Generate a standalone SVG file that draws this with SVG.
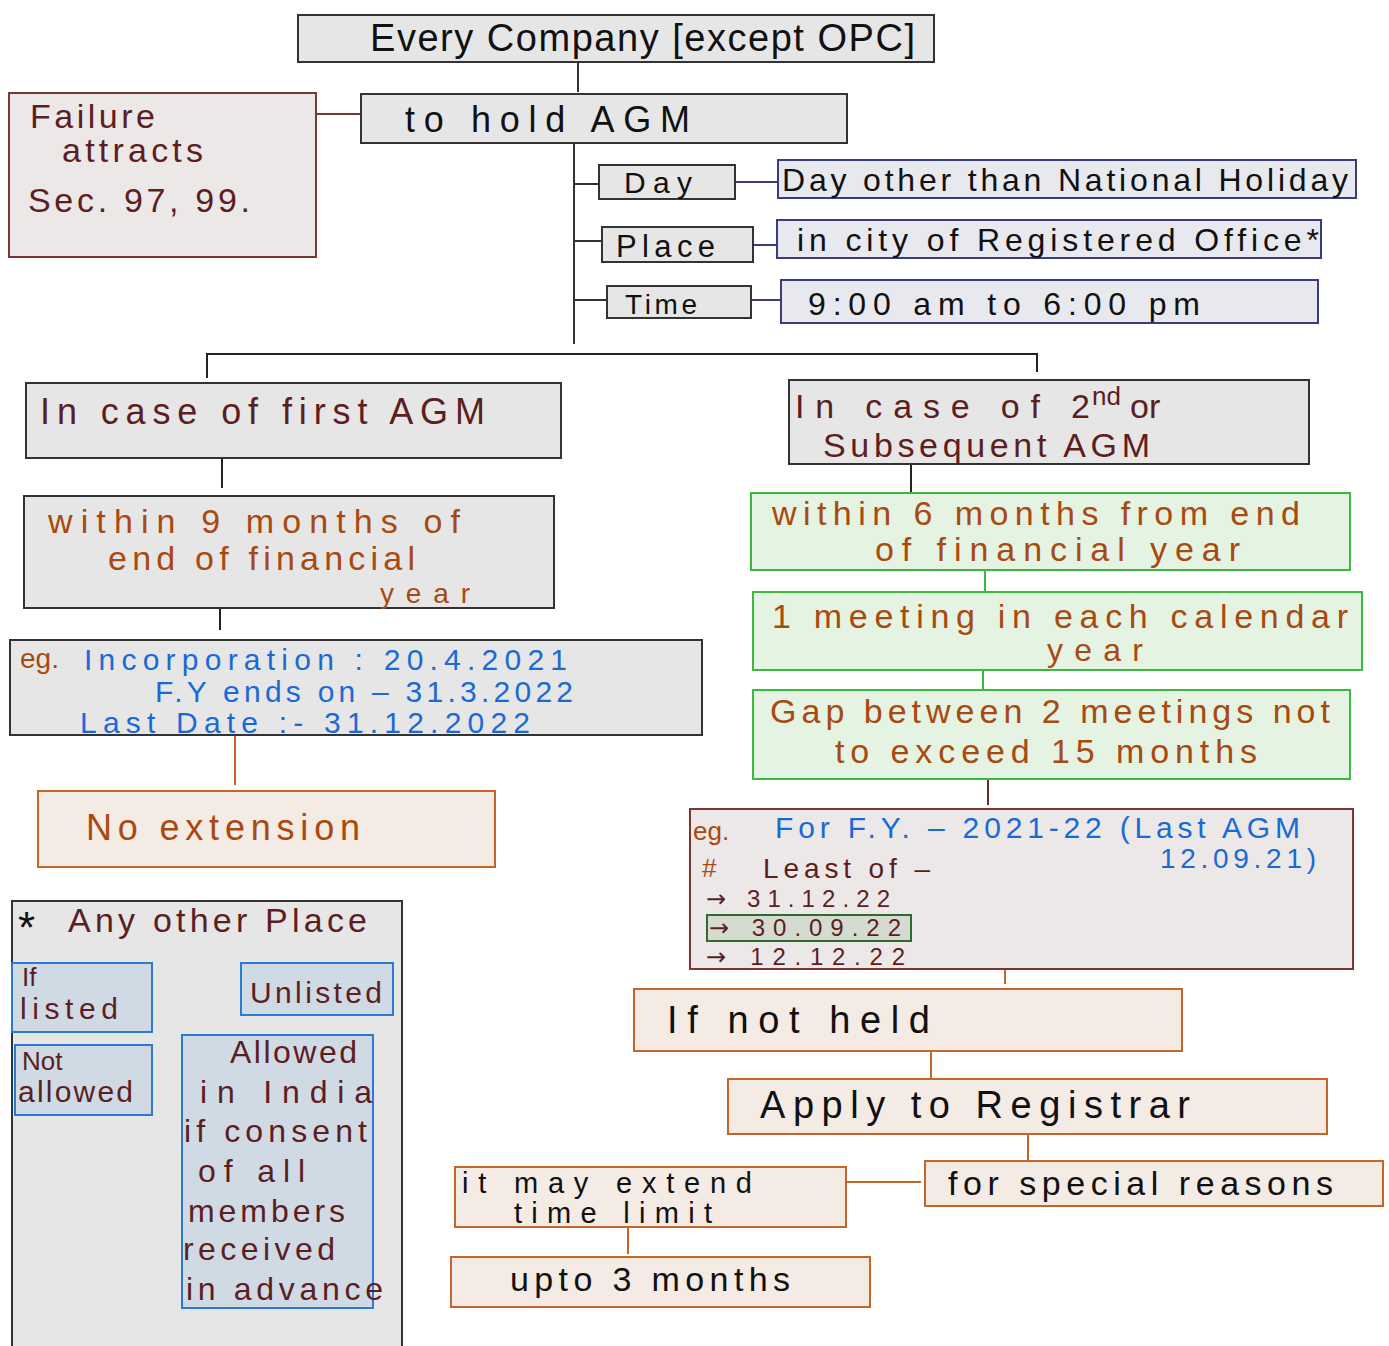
<svg xmlns="http://www.w3.org/2000/svg" width="1389" height="1346" viewBox="0 0 1389 1346">
<defs>
<style>
text{font-family:"Liberation Sans","DejaVu Sans",sans-serif;}
.gray{fill:#e6e6e6;stroke:#333;stroke-width:2}
.fail{fill:#ece8e8;stroke:#7a3535;stroke-width:2}
.navy{fill:#e8e8ef;stroke:#3b3b80;stroke-width:2}
.green{fill:#e5f3e3;stroke:#3cb93c;stroke-width:2}
.orng{fill:#f4ebe5;stroke:#c4662a;stroke-width:2}
.blue{fill:#d0dae4;stroke:#2a7ad6;stroke-width:2}
.hl{fill:#d6dbd2;stroke:#2f6a2f;stroke-width:2}
.k{fill:#111}
.m{fill:#5c1e1e}
.o{fill:#a84a10}
.b{fill:#1a6ad6}
.ar{font-family:"DejaVu Sans",sans-serif}
.c line,.c path{fill:none;stroke-width:2}
</style>
</defs>
<rect width="1389" height="1346" fill="#ffffff"/>

<g class="c" id="connectors">
<line x1="578" y1="62" x2="578" y2="92" stroke="#333"/>
<line x1="316" y1="114" x2="361" y2="114" stroke="#7a3535"/>
<line x1="574" y1="143" x2="574" y2="344" stroke="#333"/>
<line x1="574" y1="184" x2="599" y2="184" stroke="#333"/>
<line x1="574" y1="241" x2="602" y2="241" stroke="#333"/>
<line x1="574" y1="300" x2="607" y2="300" stroke="#333"/>
<line x1="735" y1="182" x2="778" y2="182" stroke="#3b3b80"/>
<line x1="753" y1="245" x2="777" y2="245" stroke="#3b3b80"/>
<line x1="751" y1="300" x2="781" y2="300" stroke="#3b3b80"/>
<path d="M207 378 V354 H1037 V372" stroke="#222"/>
<line x1="222" y1="458" x2="222" y2="488" stroke="#222"/>
<line x1="220" y1="608" x2="220" y2="630" stroke="#222"/>
<line x1="235" y1="736" x2="235" y2="785" stroke="#c4662a"/>
<line x1="911" y1="464" x2="911" y2="497" stroke="#222"/>
<line x1="985" y1="570" x2="985" y2="591" stroke="#3cb93c"/>
<line x1="983" y1="670" x2="983" y2="689" stroke="#3cb93c"/>
<line x1="988" y1="779" x2="988" y2="805" stroke="#6b2a2a"/>
<line x1="1005" y1="955" x2="1005" y2="984" stroke="#c4662a"/>
<line x1="931" y1="1051" x2="931" y2="1078" stroke="#c4662a"/>
<line x1="1028" y1="1134" x2="1028" y2="1160" stroke="#c4662a"/>
<line x1="846" y1="1182" x2="921" y2="1182" stroke="#c4662a"/>
<line x1="628" y1="1227" x2="628" y2="1254" stroke="#c4662a"/>
<path d="M70 958 V955 H300 V962" stroke="#2a7ad6"/>
<line x1="184" y1="945" x2="184" y2="955" stroke="#5c1e1e"/>
<line x1="64" y1="1032" x2="64" y2="1045" stroke="#2a7ad6" stroke-width="3"/>
<line x1="292" y1="1015" x2="293" y2="1035" stroke="#2a7ad6" stroke-width="3"/>
</g>

<g id="company">
<rect class="gray" x="298" y="15" width="636" height="47"/>
<text class="k" x="370" y="51" font-size="38" textLength="545">Every Company [except OPC]</text>
</g>
<g id="hold">
<rect class="gray" x="361" y="94" width="486" height="49"/>
<text class="k" x="405" y="132" font-size="36" textLength="285">to hold AGM</text>
</g>
<g id="failure">
<rect class="fail" x="9" y="93" width="307" height="164"/>
<text class="m" x="30" y="128" font-size="34" textLength="125">Failure</text>
<text class="m" x="62" y="162" font-size="34" textLength="141">attracts</text>
<text class="m" x="28" y="212" font-size="34" textLength="222">Sec. 97, 99.</text>
</g>
<g id="day">
<rect class="gray" x="599" y="165" width="136" height="34"/>
<text class="k" x="624" y="193" font-size="30" textLength="68">Day</text>
</g>
<g id="place">
<rect class="gray" x="602" y="227" width="151" height="35"/>
<text class="k" x="616" y="257" font-size="31" textLength="99">Place</text>
</g>
<g id="time">
<rect class="gray" x="607" y="286" width="144" height="32"/>
<text class="k" x="625" y="314" font-size="28" textLength="72">Time</text>
</g>
<g id="day-rule">
<rect class="navy" x="778" y="160" width="578" height="38"/>
<text class="k" x="782" y="191" font-size="32" textLength="566">Day other than National Holiday</text>
</g>
<g id="place-rule">
<rect class="navy" x="777" y="220" width="544" height="38"/>
<text class="k" x="797" y="251" font-size="32" textLength="522">in city of Registered Office*</text>
</g>
<g id="time-rule">
<rect class="navy" x="781" y="280" width="537" height="43"/>
<text class="k" x="808" y="315" font-size="32" textLength="392">9:00 am to 6:00 pm</text>
</g>

<g id="first-agm">
<rect class="gray" x="26" y="383" width="535" height="75"/>
<text class="m" x="40" y="424" font-size="36" textLength="445">In case of first AGM</text>
</g>
<g id="within9">
<rect class="gray" x="24" y="496" width="530" height="112"/>
<text class="o" x="48" y="533" font-size="34" textLength="412">within 9 months of</text>
<text class="o" x="108" y="570" font-size="34" textLength="307">end of financial</text>
<text class="o" x="380" y="603" font-size="28" textLength="90">year</text>
</g>
<g id="eg1">
<rect class="gray" x="10" y="640" width="692" height="95"/>
<text class="o" x="20" y="668" font-size="28">eg.</text>
<text class="b" x="84" y="670" font-size="30" textLength="483">Incorporation : 20.4.2021</text>
<text class="b" x="155" y="702" font-size="30" textLength="418">F.Y ends on –   31.3.2022</text>
<text class="b" x="80" y="733" font-size="30" textLength="450">Last Date :-  31.12.2022</text>
</g>
<g id="no-extension">
<rect class="orng" x="38" y="791" width="457" height="76"/>
<text class="o" x="86" y="840" font-size="36" textLength="274">No extension</text>
</g>

<g id="any-other-place">
<rect class="gray" x="12" y="901" width="390" height="450"/>
<text class="k" x="18" y="943" font-size="44">*</text>
<text class="m" x="68" y="932" font-size="34" textLength="299">Any other Place</text>
</g>
<g id="if-listed">
<rect class="blue" x="12" y="963" width="140" height="69"/>
<text class="m" x="22" y="986" font-size="26">If</text>
<text class="m" x="20" y="1019" font-size="30" textLength="98">listed</text>
</g>
<g id="unlisted">
<rect class="blue" x="241" y="963" width="152" height="52"/>
<text class="m" x="250" y="1003" font-size="30" textLength="132">Unlisted</text>
</g>
<g id="not-allowed">
<rect class="blue" x="15" y="1045" width="137" height="70"/>
<text class="m" x="22" y="1070" font-size="26">Not</text>
<text class="m" x="18" y="1102" font-size="30" textLength="115">allowed</text>
</g>
<g id="allowed">
<rect class="blue" x="182" y="1035" width="191" height="273"/>
<text class="m" x="230" y="1063" font-size="32" textLength="127">Allowed</text>
<text class="m" x="200" y="1103" font-size="32" textLength="172">in India</text>
<text class="m" x="184" y="1142" font-size="32" textLength="183">if consent</text>
<text class="m" x="198" y="1182" font-size="32" textLength="107">of all</text>
<text class="m" x="188" y="1222" font-size="32" textLength="157">members</text>
<text class="m" x="183" y="1260" font-size="32" textLength="152">received</text>
<text class="m" x="186" y="1300" font-size="32" textLength="197">in advance</text>
</g>

<g id="second-agm">
<rect class="gray" x="789" y="380" width="520" height="84"/>
<text class="m" x="795" y="418" font-size="34" textLength="295">In case of 2</text>
<text class="m" x="1092" y="405" font-size="26">nd</text>
<text class="m" x="1130" y="418" font-size="34">or</text>
<text class="m" x="823" y="457" font-size="34" textLength="327">Subsequent AGM</text>
</g>
<g id="within6">
<rect class="green" x="751" y="493" width="599" height="77"/>
<text class="o" x="772" y="525" font-size="34" textLength="528">within 6 months from end</text>
<text class="o" x="875" y="561" font-size="34" textLength="365">of financial year</text>
</g>
<g id="one-meeting">
<rect class="green" x="753" y="592" width="609" height="78"/>
<text class="o" x="772" y="628" font-size="34" textLength="576">1 meeting in each calendar</text>
<text class="o" x="1047" y="661" font-size="32" textLength="96">year</text>
</g>
<g id="gap">
<rect class="green" x="753" y="690" width="597" height="89"/>
<text class="o" x="770" y="723" font-size="34" textLength="560">Gap between 2 meetings not</text>
<text class="o" x="835" y="763" font-size="34" textLength="422">to exceed 15 months</text>
</g>
<g id="eg2">
<rect class="fail" x="690" y="809" width="663" height="160"/>
<rect class="hl" x="707" y="915" width="204" height="26"/>
<text class="o" x="693" y="840" font-size="26">eg.</text>
<text class="o" x="702" y="877" font-size="26">#</text>
<text class="b" x="775" y="838" font-size="30" textLength="525">For F.Y. – 2021-22 (Last AGM</text>
<text class="b" x="1160" y="868" font-size="28" textLength="156">12.09.21)</text>
<text class="m" x="763" y="878" font-size="28" textLength="167">Least of –</text>
<text class="m" x="706" y="907" font-size="24" textLength="184"><tspan class="ar">→</tspan> 31.12.22</text>
<text class="m" x="709" y="936" font-size="24" textLength="192"><tspan class="ar">→</tspan> 30.09.22</text>
<text class="m" x="706" y="965" font-size="24" textLength="199"><tspan class="ar">→</tspan> 12.12.22</text>
</g>
<g id="not-held">
<rect class="orng" x="634" y="989" width="548" height="62"/>
<text class="k" x="667" y="1033" font-size="38" textLength="263">If not held</text>
</g>
<g id="apply">
<rect class="orng" x="728" y="1079" width="599" height="55"/>
<text class="k" x="760" y="1118" font-size="38" textLength="430">Apply to Registrar</text>
</g>
<g id="special">
<rect class="orng" x="925" y="1161" width="458" height="45"/>
<text class="k" x="948" y="1195" font-size="34" textLength="385">for special reasons</text>
</g>
<g id="extend">
<rect class="orng" x="455" y="1167" width="391" height="60"/>
<text class="k" x="462" y="1193" font-size="29" textLength="290">it may extend</text>
<text class="k" x="514" y="1223" font-size="29" textLength="198">time limit</text>
</g>
<g id="upto">
<rect class="orng" x="451" y="1257" width="419" height="50"/>
<text class="k" x="510" y="1291" font-size="34" textLength="280">upto 3 months</text>
</g>
</svg>
